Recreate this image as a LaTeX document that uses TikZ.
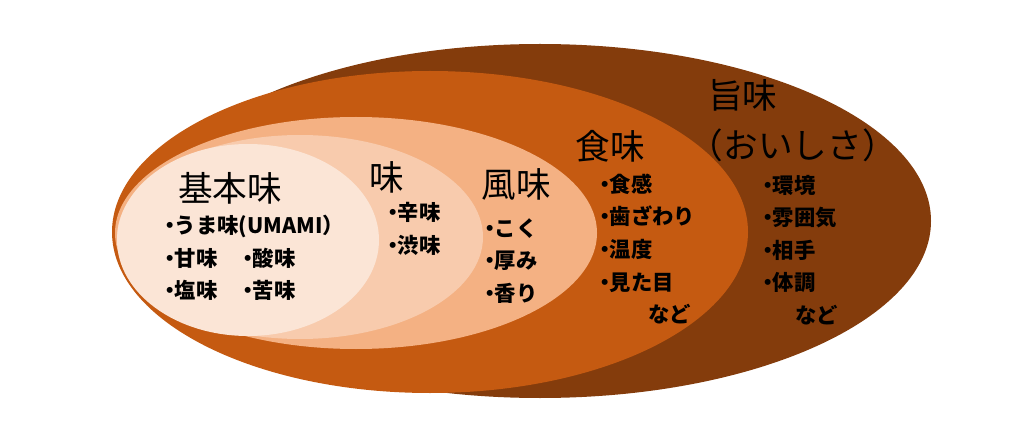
\documentclass[tikz,border=0pt]{standalone}
\usepackage{fontspec}
\setmainfont{Noto Sans CJK JP}
\usepackage{tikz}
\usetikzlibrary{positioning}

\definecolor{umamibrown}{HTML}{843C0C}
\definecolor{shokumiorange}{HTML}{C55A11}
\definecolor{fumilight}{HTML}{F4B183}
\definecolor{ajipeach}{HTML}{F8CBAD}
\definecolor{kihonpale}{HTML}{FBE5D6}

% narrow bullet, as the items have it
\newcommand{\tastedot}{\makebox[0.45em][c]{・}}

\tikzset{
	layertitle/.style={inner sep=0pt, font=\fontsize{26}{30}\selectfont},
	layeritems/.style={
		inner sep=0pt,
		anchor=west,
		align=left,
		font=\fontsize{16}{24.4}\selectfont\bfseries
	},
}

\begin{document}
\begin{tikzpicture}[x=0.75pt, y=-0.75pt]
		\useasboundingbox (0,0) rectangle (1014,424);

		% nested layers, outermost first
		\fill[umamibrown] (540,221) ellipse [x radius=391, y radius=177];
		\fill[shokumiorange] (430,232) ellipse [x radius=318, y radius=161];
		\fill[fumilight] (356,233) ellipse [x radius=241, y radius=116];
		\fill[ajipeach] (300,237) ellipse [x radius=183, y radius=102];
		\fill[kihonpale] (248,240) ellipse [x radius=131, y radius=96];

		% basic tastes
		\node[layertitle] (kihon) at (230,188) {基本味};
		\node[layeritems] (kihonlist) at (165,258) {%
			\tastedot うま味(UMAMI）\\
			\makebox[58.5pt][l]{\tastedot 甘味}\tastedot 酸味\\
			\makebox[58.5pt][l]{\tastedot 塩味}\tastedot 苦味
		};

		% taste
		\node[layertitle] (aji) at (387,177) {味};
		\node[layeritems] (ajilist) at (388,229) {\tastedot 辛味\\\tastedot 渋味};

		% flavour
		\node[layertitle] (fumi) at (516,184) {風味};
		\node[layeritems] (fumilist) at (485,261) {%
			\tastedot こく\\\tastedot 厚み\\\tastedot 香り
		};

		% eating
		\node[layertitle] (shokumi) at (610,146) {食味};
		\node[layeritems] (shokumilist) at (600,249) {%
			\tastedot 食感\\\tastedot 歯ざわり\\\tastedot 温度\\\tastedot 見た目\\
			\hspace*{36pt}など
		};

		% deliciousness
		\node[layertitle, anchor=west] (umami) at (708,95) {旨味};
		\node[layertitle, anchor=west] (oishisa) at (706,145)
			{\makebox[0.5em][r]{（}おいしさ\makebox[0.5em][l]{）}};
		\node[layeritems] (umamilist) at (763,250) {%
			\tastedot 環境\\\tastedot 雰囲気\\\tastedot 相手\\\tastedot 体調\\
			\hspace*{24pt}など
		};
	\end{tikzpicture}
\end{document}
